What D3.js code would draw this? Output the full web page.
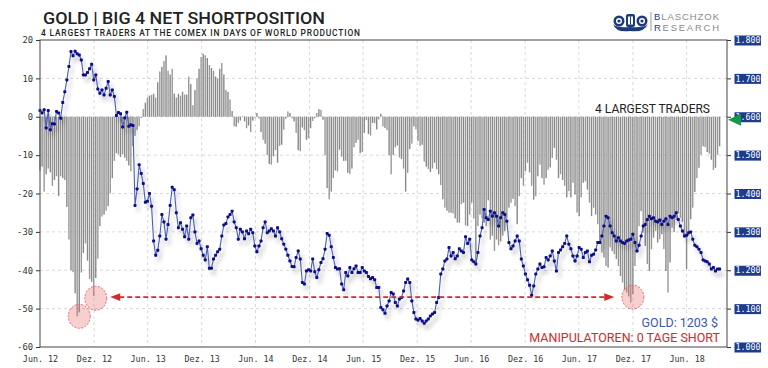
<!DOCTYPE html>
<html>
<head>
<meta charset="utf-8">
<script src="https://cdn.jsdelivr.net/npm/d3@7"></script>
<style>
  body { margin: 0; background: #fff; }
  svg { display: block; }
</style>
</head>
<body>
<svg id="chart"></svg>
<script>
var width = 768, height = 368;
var plotLeft = 40, plotRight = 727, plotTop = 40, plotBottom = 347;

// weekly values, first week = June 2012
var firstWeek = new Date(2012, 5, 1);

// big 4 net short position in days of world production
var bigFour = [
  -14,-13,-19.5,-15,-13.5,-14.5,-18,-16.5,-15.5,-20.7,
  -15.5,-16,-16.5,-23.5,-32,-40,-40.5,-46,-52,-51,
  -40.6,-35.5,-33,-37.5,-42.3,-43,-46.7,-42,-37,-28.5,
  -26,-25.5,-24.5,-23.3,-20,-16,-11.5,-9.5,-9.8,-10.5,
  -9.8,-10.7,-11.5,-12.7,-14.2,-7.7,-5,-3.4,-2.5,-0.3,
  2,3.7,5,5.5,5.7,6,5,9,11.8,13,
  14.5,16,12,11,12.5,6,5,6,5.5,6.5,
  5.8,5.8,10.5,8.5,3,7,10,12.5,15.6,16.4,
  16,15.3,13.5,12.7,12,10.5,10,12.5,14,11,
  7,6.5,4.5,1.5,-2.5,-2.6,-1.6,-1,0.2,-1.2,
  -3,-2.3,-4,-1,-0.3,1,-0.5,-4,-6,-7,
  -10,-12.3,
  -12.5,-10.3,-8.7,-12,-7.6,-7.3,-3.4,-0.5,1.4,1,
  -0.4,-1.2,-4.2,-8.7,-9,-2.8,-3.5,-6,-5.6,-3,
  -1.1,-0.4,1,2,1.8,-0.8,-10,-18.6,-21.5,-19.5,
  -16,-14,-14.2,-8.6,-10.4,-11.5,-11.5,-14.6,-14.9,-13.5,
  -8,-6.8,-6,-9.5,-9.2,-4.2,-0.9,-4.5,-4.9,-1.6,
  -1.7,-3.3,-0.7,0.8,-2.5,-2.9,-3.5,-10,-15,-10,
  -8,-7.5,-10.6,-11,-13.5,-19.5,-14.6,-8.4,-7,-2.5,
  -3.3,-6.3,-7.6,-7.3,-11.7,-13,-13.6,-14.4,-13.5,-12,
  -13.7,-15,-17.8,-21.5,-23.7,-24.5,-25,-25,-25.2,-26.5,
  -27.6,-27.6,-22.8,-22.4,-28.3,-28.5,-25.5,-22.4,-26.5,-38,
  -28.5,-25.5,-26.5,-27.6,-28.5,-21.8,-32,-31,-35,-32,
  -33.5,-32.5,-31,
  -29.8,-26.3,-23.7,-22.4,-21.4,-23.3,-28,-20.7,-16,-18,
  -14.2,-12,-14.5,-18,-21.6,-20.7,-15.5,-12.5,-16,-17.7,
  -16,-13.8,-13.2,-10.7,-8.1,-11.2,-16,-15,-16.5,-18,
  -21,-19.4,-21,-17.2,-20.3,-25,-25.9,-21,-17.2,-16.8,
  -19,-22.4,-25.9,-23.7,-25.5,-28,-33.2,-35.4,-36.7,-38.9,
  -39.3,-34,-35,-35.8,-37.1,-38.9,-41.5,-43.2,-45.1,-45.8,
  -46.8,-48.4,-46.2,-38.9,-35,-28.5,-24.6,-30.2,-33.7,-38.4,
  -40.2,-34.5,-31.5,-29.8,-32.8,-31.9,-30.6,-34.5,-40.2,-45.8,
  -38,-28.9,-30,-26.9,-25.2,-26.3,-27.4,-31.4,-39.7,-31,
  -26.7,-23.7,-19.6,-16,-13.3,-9.9,-7.7,-7.9,-9.2,-9.6,
  -11.2,-13.9,-13.3,-9.9,-7.7
];

// gold price in USD
var goldPrice = [
  1616,1610,1618,1571,1616,1566,1582,1581,1614,1610,
  1596,1637,1665,1696,1731,1770,1759,1771,1764,1761,
  1748,1709,1709,1715,1725,1737,1696,1709,1672,1661,
  1670,1657,1674,1692,1657,1670,1653,1603,1611,1608,
  1573,1597,1612,1575,1579,1577,1369,1412,1475,1452,
  1426,1377,1380,1400,1367,1276,1239,1252,1289,1345,
  1326,1281,1319,1369,1416,1410,1350,1311,1324,1307,
  1287,1315,1281,1337,1344,1300,1270,1276,1256,1239,
  1227,1261,1205,1205,1229,1239,1248,1255,1289,1318,
  1322,1339,1345,1354,1326,1311,1281,1307,1300,1282,
  1302,1295,1307,1298,1263,1248,1263,1276,1311,1326,
  1298,1302,
  1308,1302,1289,1311,1300,1282,1268,1255,1239,1224,
  1210,1209,1233,1250,1229,1168,1164,1198,1201,1198,
  1229,1196,1181,1201,1220,1230,1255,1296,1291,1261,
  1233,1207,1203,1204,1164,1149,1194,1185,1207,1194,
  1204,1211,1194,1194,1207,1198,1194,1184,1178,1181,
  1175,1155,1155,1103,1097,1088,1107,1120,1142,1138,
  1116,1107,1125,1129,1146,1168,1177,1168,1120,1090,
  1073,1070,1074,1068,1062,1068,1073,1081,1086,1090,
  1116,1129,1190,1203,1224,1229,1259,1237,1246,1230,
  1237,1256,1250,1246,1287,1270,1281,1227,1222,1216,
  1246,1289,1311,1358,1337,1332,1354,1341,1350,1341,
  1315,1337,1350,
  1345,1328,1272,1256,1263,1276,1289,1276,1229,1211,
  1190,1175,1161,1135,1159,1190,1203,1216,1207,1209,
  1233,1227,1237,1250,1224,1198,1246,1253,1261,1270,
  1289,1268,1256,1237,1224,1237,1259,1255,1233,1246,
  1250,1222,1239,1242,1253,1272,1272,1289,1315,1341,
  1337,1315,1298,1289,1276,1285,1276,1272,1270,1276,
  1279,1281,1294,1272,1250,1265,1289,1315,1319,1332,
  1341,1334,1337,1328,1326,1331,1319,1328,1334,1319,
  1341,1337,1341,1350,1332,1315,1302,1289,1291,1298,
  1300,1281,1265,1261,1255,1246,1227,1224,1222,1216,
  1203,1207,1198,1203,1203
];

var leftTicks = [20, 10, 0, -10, -20, -30, -40, -50, -60];
var goldTicks = [1800, 1700, 1600, 1500, 1400, 1300, 1200, 1100, 1000];
var goldTickLabels = ['1.800', '1.700', '1.600', '1.500', '1.400', '1.300', '1.200', '1.100', '1.000'];
var xTickDates = [
  new Date(2012, 5, 1), new Date(2012, 11, 1), new Date(2013, 5, 1), new Date(2013, 11, 1),
  new Date(2014, 5, 1), new Date(2014, 11, 1), new Date(2015, 5, 1), new Date(2015, 11, 1),
  new Date(2016, 5, 1), new Date(2016, 11, 1), new Date(2017, 5, 1), new Date(2017, 11, 1),
  new Date(2018, 5, 1)
];
var xTickLabels = ['Jun. 12', 'Dez. 12', 'Jun. 13', 'Dez. 13', 'Jun. 14', 'Dez. 14', 'Jun. 15',
                   'Dez. 15', 'Jun. 16', 'Dez. 16', 'Jun. 17', 'Dez. 17', 'Jun. 18'];

// highlighted extremes (week index, value) and the comparison arrow
var highlights = [{week: 19, value: -52}, {week: 27, value: -47.3}, {week: 287, value: -47}];
var arrowFrom = {week: 34, value: -47};
var arrowTo = {week: 278, value: -47};
var currentShort = 0;
var goldNow = 1203;

var weekDate = i => d3.timeDay.offset(firstWeek, 7 * i);

var svg = d3.select('#chart').attr('width', width).attr('height', height)
    .style('font-family', 'Roboto, sans-serif');

var x = d3.scaleTime()
    .domain([new Date(2012, 5, 1), new Date(2018, 9, 16)])
    .range([plotLeft, plotRight]);
var yL = d3.scaleLinear().domain([-60, 20]).range([plotBottom, plotTop]);
var yR = d3.scaleLinear().domain([1000, 1800]).range([plotBottom, plotTop]);

var defs = svg.append('defs');
var shadow = defs.append('filter').attr('id', 'shadow')
    .attr('x', '-5%').attr('y', '-10%').attr('width', '115%').attr('height', '130%');
shadow.append('feGaussianBlur').attr('in', 'SourceAlpha').attr('stdDeviation', 2.2).attr('result', 'b');
shadow.append('feOffset').attr('in', 'b').attr('dx', 3).attr('dy', 5).attr('result', 'o');
shadow.append('feComponentTransfer').attr('in', 'o').attr('result', 's')
  .append('feFuncA').attr('type', 'linear').attr('slope', 0.22);
var merge = shadow.append('feMerge');
merge.append('feMergeNode').attr('in', 's');
merge.append('feMergeNode').attr('in', 'SourceGraphic');

// grid
svg.append('g')
  .selectAll('line')
  .data(leftTicks.slice(1, -1))
  .enter().append('line')
    .attr('x1', plotLeft).attr('x2', plotRight)
    .attr('y1', d => yL(d)).attr('y2', d => yL(d))
    .attr('stroke', '#d9d9d9').attr('stroke-dasharray', '3,3');

svg.append('g')
  .selectAll('line')
  .data(xTickDates.slice(1))
  .enter().append('line')
    .attr('x1', d => x(d)).attr('x2', d => x(d))
    .attr('y1', plotTop).attr('y2', plotBottom)
    .attr('stroke', '#d9d9d9').attr('stroke-dasharray', '3,3');

// bars
svg.append('g')
  .selectAll('rect')
  .data(bigFour)
  .enter().append('rect')
    .attr('x', (d, i) => x(weekDate(i)) - 0.7)
    .attr('width', 1.4)
    .attr('y', d => Math.min(yL(d), yL(0)))
    .attr('height', d => Math.abs(yL(d) - yL(0)))
    .attr('fill', (d, i) => i % 2 ? '#888' : '#989898');

// highlight circles
svg.append('g')
  .selectAll('ellipse')
  .data(highlights)
  .enter().append('ellipse')
    .attr('cx', d => x(weekDate(d.week)))
    .attr('cy', d => yL(d.value))
    .attr('rx', 11).attr('ry', 12)
    .attr('fill', 'rgba(232,110,110,0.33)')
    .attr('stroke', '#e06a6a')
    .attr('stroke-dasharray', '2,1.5');

// gold line
var gold = svg.append('g').attr('filter', 'url(#shadow)');
gold.append('path')
    .datum(goldPrice)
    .attr('fill', 'none')
    .attr('stroke', '#4a5fb4')
    .attr('stroke-width', 1.1)
    .attr('d', d3.line().x((d, i) => x(weekDate(i))).y(d => yR(d)));
gold.selectAll('rect')
  .data(goldPrice)
  .enter().append('rect')
    .attr('x', (d, i) => x(weekDate(i)) - 1.5)
    .attr('y', d => yR(d) - 1.5)
    .attr('width', 3).attr('height', 3).attr('rx', 0.8)
    .attr('fill', '#0a0a86');

// red dashed arrow
var ax1 = x(weekDate(arrowFrom.week)), ax2 = x(weekDate(arrowTo.week)), ay = yL(arrowFrom.value);
svg.append('line')
    .attr('x1', ax1 + 9).attr('x2', ax2 - 9)
    .attr('y1', ay).attr('y2', ay)
    .attr('stroke', '#d42a2a').attr('stroke-width', 1.7)
    .attr('stroke-dasharray', '5,3');
svg.append('path')
    .attr('d', 'M' + ax1 + ',' + ay + 'L' + (ax1 + 10) + ',' + (ay - 3.8) + 'L' + (ax1 + 10) + ',' + (ay + 3.8) + 'Z')
    .attr('fill', '#d42a2a');
svg.append('path')
    .attr('d', 'M' + ax2 + ',' + ay + 'L' + (ax2 - 10) + ',' + (ay - 3.8) + 'L' + (ax2 - 10) + ',' + (ay + 3.8) + 'Z')
    .attr('fill', '#d42a2a');

// axes
var yAxisL = d3.axisLeft(yL).tickValues(leftTicks).tickSize(4).tickPadding(3)
    .tickFormat(d => String(d));
var gL = svg.append('g').attr('transform', 'translate(' + plotLeft + ',0)').call(yAxisL);
gL.select('.domain').remove();
gL.selectAll('text').attr('font-family', 'DejaVu Sans Mono').attr('font-size', 8.8).attr('fill', '#333');
gL.selectAll('line').attr('stroke', '#333');

var yAxisR = d3.axisRight(yR).tickValues(goldTicks).tickSize(4).tickPadding(4)
    .tickFormat((d, i) => goldTickLabels[i]);
var gR = svg.append('g').attr('transform', 'translate(' + plotRight + ',0)').call(yAxisR);
gR.select('.domain').remove();
gR.selectAll('line').attr('stroke', '#333');
gR.selectAll('.tick').insert('rect', 'text')
    .attr('x', 7.5).attr('y', -5).attr('width', 26.5).attr('height', 10)
    .attr('fill', '#1e3c8c');
gR.selectAll('text').attr('font-family', 'DejaVu Sans Mono').attr('font-size', 8.3)
    .attr('fill', '#fff').attr('x', 8.5);

var xAxis = d3.axisBottom(x).tickValues(xTickDates).tickSize(0).tickPadding(9.5)
    .tickFormat((d, i) => xTickLabels[i]);
var gX = svg.append('g').attr('transform', 'translate(0,' + plotBottom + ')').call(xAxis);
gX.select('.domain').remove();
gX.selectAll('text').attr('font-family', 'DejaVu Sans Mono').attr('font-size', 8.4).attr('fill', '#333');

// frame
svg.append('rect')
    .attr('x', plotLeft).attr('y', plotTop)
    .attr('width', plotRight - plotLeft).attr('height', plotBottom - plotTop)
    .attr('fill', 'none').attr('stroke', '#444').attr('stroke-width', 1);

// current value marker
var my = yL(currentShort) + 3;
svg.append('path')
    .attr('d', 'M' + (plotRight + 1) + ',' + my + 'L' + (plotRight + 14) + ',' + (my - 6) + 'L' + (plotRight + 14) + ',' + (my + 6) + 'Z')
    .attr('fill', '#14994a');

// titles
svg.append('text')
    .attr('x', 43).attr('y', 24)
    .attr('font-size', 17).attr('font-weight', 500).attr('fill', '#222')
    .attr('textLength', 282).attr('lengthAdjust', 'spacingAndGlyphs')
    .text('GOLD | BIG 4 NET SHORTPOSITION');

svg.append('text')
    .attr('x', 41).attr('y', 35.8)
    .attr('font-size', 8.4).attr('font-weight', 500).attr('fill', '#222')
    .attr('textLength', 319)
    .text('4 LARGEST TRADERS AT THE COMEX IN DAYS OF WORLD PRODUCTION');

svg.append('text')
    .attr('x', 710).attr('y', 112.5).attr('text-anchor', 'end')
    .attr('font-size', 12).attr('fill', '#222')
    .text('4 LARGEST TRADERS');

svg.append('text')
    .attr('x', 718).attr('y', 327).attr('text-anchor', 'end')
    .attr('font-size', 12.5).attr('fill', '#3b59a8')
    .text('GOLD: ' + goldNow + ' $');

svg.append('text')
    .attr('x', 720).attr('y', 341.5).attr('text-anchor', 'end')
    .attr('font-size', 12.5).attr('fill', '#d62828')
    .text('MANIPULATOREN: ' + currentShort + ' TAGE SHORT');

// logo
var logo = svg.append('g');
logo.append('path')
    .attr('d', 'M613,24 Q616,33 630,31 Q644,33 648,24 Q645,28 630,27 Q616,28 613,24 Z')
    .attr('fill', '#1d3a7c');
[619, 642].forEach(function (cx) {
  logo.append('circle').attr('cx', cx).attr('cy', 21).attr('r', 5.5).attr('fill', '#1d3a7c');
  logo.append('circle').attr('cx', cx).attr('cy', 21).attr('r', 3).attr('fill', '#fff');
  logo.append('circle').attr('cx', cx).attr('cy', 21).attr('r', 1.6).attr('fill', '#1d3a7c');
});
logo.append('rect').attr('x', 626).attr('y', 14).attr('width', 9).attr('height', 13).attr('rx', 2).attr('fill', '#1d3a7c');
logo.append('rect').attr('x', 628).attr('y', 16.5).attr('width', 5).attr('height', 8).attr('fill', '#fff');
logo.append('line').attr('x1', 630.5).attr('x2', 630.5).attr('y1', 16.5).attr('y2', 24.5).attr('stroke', '#1d3a7c');
logo.append('line').attr('x1', 651).attr('x2', 651).attr('y1', 12).attr('y2', 31).attr('stroke', '#9a9a9a');

var brandFont = {family: 'Liberation Sans', size: 9.5};
[{y: 20, first: 'B', rest: 'LASCHZOK', len: 58}, {y: 31, first: 'R', rest: 'ESEARCH', len: 56}]
  .forEach(function (row) {
    var t = logo.append('text').attr('x', 654).attr('y', row.y)
        .attr('font-family', brandFont.family).attr('font-size', brandFont.size)
        .attr('fill', '#8a8a8a').attr('textLength', 65);
    t.append('tspan').attr('fill', '#1d3a7c').text(row.first);
    t.append('tspan').text(row.rest);
  });
</script>
</body>
</html>
